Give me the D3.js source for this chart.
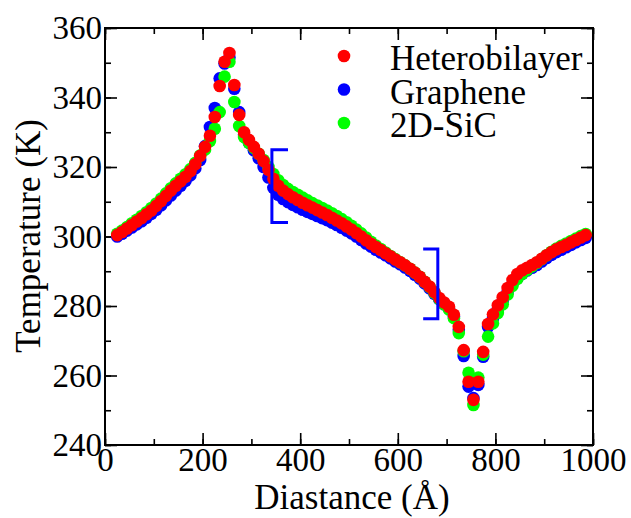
<!DOCTYPE html>
<html>
<head>
<meta charset="utf-8">
<script src="https://cdn.jsdelivr.net/npm/d3@7"></script>
<style>
body { margin: 0; background: #fff; }
text { font-family: "Liberation Serif", "Times New Roman", serif; fill: #000; }
</style>
</head>
<body>
<div id="vis"></div>
<script>
// distance bins (Angstrom)
var distance = [25,35,45,55,65,75,85,95,105,115,125,135,145,155,165,175,185,195,205,215,
  225,235,245,255,265,275,285,295,305,315,325,335,345,355,365,375,385,395,405,415,
  425,435,445,455,465,475,485,495,505,515,525,535,545,555,565,575,585,595,605,615,
  625,635,645,655,665,675,685,695,705,715,725,735,745,755,765,775,785,795,805,815,
  825,835,845,855,865,875,885,895,905,915,925,935,945,955,965,975,985];

// temperature (K) per series
var graphene = [300.0,300.8,301.7,302.6,303.5,304.4,305.4,306.5,307.7,309.0,310.4,311.8,313.2,314.6,316.0,317.6,319.6,322.0,326.0,331.5,
  337.0,345.5,349.8,351.5,342.5,335.8,329.3,327.0,324.8,322.5,320.0,317.0,314.0,312.0,310.8,309.9,309.1,308.4,307.7,307.1,
  306.5,305.9,305.3,304.7,304.0,303.3,302.5,301.7,300.9,300.0,299.0,298.0,297.1,296.2,295.4,294.6,293.7,292.8,292.0,291.1,
  290.1,289.0,287.9,286.5,285.1,283.5,281.9,280.5,279.2,277.0,273.2,265.6,256.8,253.5,257.3,265.4,274.0,276.5,279.2,281.5,
  284.0,286.3,288.0,289.3,290.2,291.0,291.8,292.8,293.8,294.7,295.5,296.2,296.9,297.6,298.3,299.0,299.6];

var sic = [300.8,301.7,302.7,303.8,304.8,305.9,307.0,308.2,309.5,310.9,312.4,313.9,315.3,316.6,317.9,319.4,321.2,323.3,325.0,327.5,
  331.0,335.8,346.0,350.3,338.7,331.8,328.6,327.0,325.5,323.8,322.0,320.0,318.0,316.2,314.8,313.7,312.8,312.0,311.2,310.4,
  309.6,308.9,308.2,307.5,306.7,305.9,305.0,304.1,303.1,302.0,300.9,299.7,298.5,297.4,296.4,295.4,294.4,293.5,292.6,291.7,
  290.7,289.6,288.4,287.0,285.5,283.8,282.0,280.5,279.0,276.5,272.2,267.0,260.8,251.5,259.4,266.0,271.2,275.0,278.0,280.5,
  283.3,285.8,287.8,289.3,290.4,291.4,292.4,293.5,294.6,295.6,296.5,297.3,298.0,298.7,299.4,300.1,300.7];

var hetero = [300.4,301.3,302.3,303.3,304.3,305.3,306.4,307.5,308.8,310.2,311.7,313.2,314.6,315.9,317.2,318.8,320.8,323.2,325.8,329.0,
  334.4,343.3,350.3,352.8,343.6,335.0,330.0,327.8,325.8,323.8,321.7,319.2,316.6,314.6,313.2,312.2,311.3,310.5,309.7,309.0,
  308.3,307.6,306.9,306.2,305.4,304.6,303.8,302.9,302.0,301.0,300.0,298.9,297.9,297.0,296.1,295.2,294.3,293.4,292.6,291.7,
  290.7,289.6,288.4,287.0,285.6,284.0,282.3,281.0,279.8,277.5,274.0,267.3,258.2,253.0,258.2,266.8,274.8,277.6,280.2,282.5,
  285.2,287.5,289.2,290.3,291.0,291.8,292.6,293.6,294.6,295.5,296.3,297.0,297.6,298.3,299.0,299.7,300.4];

var seriesNames = ["Heterobilayer","Graphene","2D-SiC"];
var seriesColors = ["#ff0000","#0000ff","#00ff00"];

var xTicks = [0,200,400,600,800,1000];
var yTicks = [240,260,280,300,320,340,360];

// bracket marks: [xArm, xStem, tLow, tHigh]
var bracketLeft = [375, 342, 304, 325];
var bracketRight = [652, 682, 276.3, 296.4];

var W = 631, H = 518;
var pLeft = 105, pRight = 593, pTop = 28, pBottom = 445;

var svg = d3.select("#vis").append("svg").attr("width", W).attr("height", H);
svg.append("rect").attr("width", W).attr("height", H).attr("fill", "#fff");

var x = d3.scaleLinear().domain([0,1000]).range([pLeft,pRight]);
var y = d3.scaleLinear().domain([240,360]).range([pBottom,pTop]);

// minor ticks on all four sides
var minorX = d3.range(0,1001,100), minorY = d3.range(240,361,10);
svg.append("g").attr("transform","translate(0,"+pBottom+")").call(d3.axisBottom(x).tickValues(minorX).tickSize(-6).tickFormat(""));
svg.append("g").attr("transform","translate(0,"+pTop+")").call(d3.axisTop(x).tickValues(minorX).tickSize(-6).tickFormat(""));
svg.append("g").attr("transform","translate("+pLeft+",0)").call(d3.axisLeft(y).tickValues(minorY).tickSize(-6).tickFormat(""));
svg.append("g").attr("transform","translate("+pRight+",0)").call(d3.axisRight(y).tickValues(minorY).tickSize(-6).tickFormat(""));

// major ticks
svg.append("g").attr("transform","translate(0,"+pBottom+")")
  .call(d3.axisBottom(x).tickValues(xTicks).tickSize(-12).tickPadding(3).tickFormat(d3.format("d")));
svg.append("g").attr("transform","translate(0,"+pTop+")").call(d3.axisTop(x).tickValues(xTicks).tickSize(-12).tickFormat(""));
svg.append("g").attr("transform","translate("+pLeft+",0)")
  .call(d3.axisLeft(y).tickValues(yTicks).tickSize(-12).tickPadding(3).tickFormat(d3.format("d")));
svg.append("g").attr("transform","translate("+pRight+",0)").call(d3.axisRight(y).tickValues(yTicks).tickSize(-12).tickFormat(""));

svg.selectAll(".domain").remove();
svg.selectAll(".tick line").attr("stroke","#000").attr("stroke-width",1.6);
svg.selectAll(".tick text").attr("font-size",33).attr("font-family","Liberation Serif").attr("fill","#000");

// frame
svg.append("rect").attr("x",pLeft).attr("y",pTop).attr("width",pRight-pLeft).attr("height",pBottom-pTop)
  .attr("fill","none").attr("stroke","#000").attr("stroke-width",2);

// points: graphene, 2D-SiC, then heterobilayer on top
function drawSeries(vals, color){
  svg.append("g").selectAll("circle").data(vals).enter().append("circle")
    .attr("cx", (d,i) => x(distance[i]))
    .attr("cy", d => y(d))
    .attr("r", 6.3)
    .attr("fill", color);
}
drawSeries(graphene, seriesColors[1]);
drawSeries(sic, seriesColors[2]);
drawSeries(hetero, seriesColors[0]);

// brackets
function bracket(b){
  var p = d3.path();
  p.moveTo(x(b[0]), y(b[3]));
  p.lineTo(x(b[1]), y(b[3]));
  p.lineTo(x(b[1]), y(b[2]));
  p.lineTo(x(b[0]), y(b[2]));
  svg.append("path").attr("d", p.toString()).attr("fill","none")
    .attr("stroke","#0000ff").attr("stroke-width",3);
}
bracket(bracketLeft);
bracket(bracketRight);

// legend
seriesNames.forEach(function(name, i){
  var ly = 56 + i*33.5;
  svg.append("circle").attr("cx",344).attr("cy",ly).attr("r",6.3).attr("fill",seriesColors[i]);
  svg.append("text").attr("x",390).attr("y",ly+14).attr("font-size",35).text(name);
});

// axis titles
svg.append("text").attr("x",352).attr("y",509).attr("text-anchor","middle").attr("font-size",35)
  .text("Diastance (\u00c5)");
svg.append("text").attr("transform","translate(40,236) rotate(-90)").attr("text-anchor","middle")
  .attr("font-size",35).text("Temperature (K)");
</script>
</body>
</html>
